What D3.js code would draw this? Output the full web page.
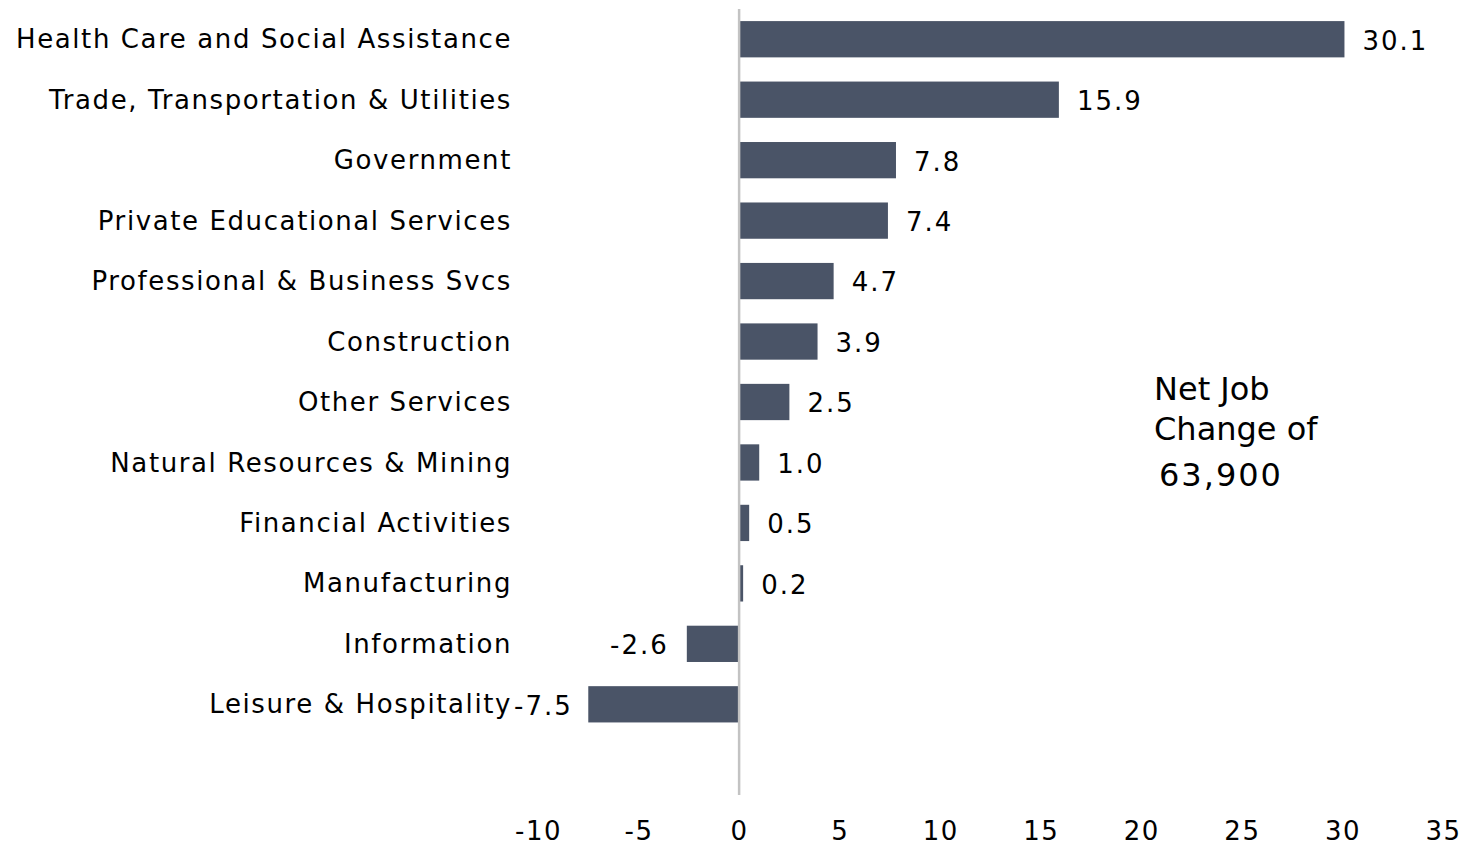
<!DOCTYPE html>
<html>
<head>
<meta charset="utf-8">
<script src="https://cdn.jsdelivr.net/npm/d3@7"></script>
<style>
  body { margin: 0; background: #fff; overflow: hidden; }
  text { font-family: "DejaVu Sans", Verdana, sans-serif; fill: #000; }
</style>
</head>
<body>
<div id="graph"></div>
<script>
const categories = ["Health Care and Social Assistance", "Trade, Transportation & Utilities", "Government",
  "Private Educational Services", "Professional & Business Svcs", "Construction", "Other Services",
  "Natural Resources & Mining", "Financial Activities", "Manufacturing", "Information", "Leisure & Hospitality"];
const values = [30.1, 15.9, 7.8, 7.4, 4.7, 3.9, 2.5, 1.0, 0.5, 0.2, -2.6, -7.5];
const xTicks = [-10, -5, 0, 5, 10, 15, 20, 25, 30, 35];
const noteLines = ["Net Job", "Change of", "63,900"];

document.addEventListener('DOMContentLoaded', () => {
  let width = 1468, height = 845, left = 538, right = 1443, top = 9, bottom = 795;
  let data = categories.map((c, i) => ({cat: c, v: values[i]}));

  let x = d3.scaleLinear().domain([-10, 35]).range([left, right]);
  // one empty slot after the last category, like the original
  let y = d3.scaleBand().domain(categories.concat([""])).range([top, bottom])
    .paddingInner(0.4).paddingOuter(0.2);

  let svg = d3.select("#graph").append("svg").attr("width", width).attr("height", height)
    .style("display", "block");

  svg.selectAll("rect.bar").data(data).enter().append("rect")
    .attr("class", "bar")
    .attr("x", d => x(Math.min(0, d.v)))
    .attr("y", d => y(d.cat))
    .attr("width", d => Math.abs(x(d.v) - x(0)))
    .attr("height", y.bandwidth())
    .attr("fill", "#4a5467");

  // zero line
  svg.append("line")
    .attr("x1", x(0)).attr("x2", x(0)).attr("y1", top).attr("y2", bottom)
    .attr("stroke", "#c3c3c3").attr("stroke-width", 2.5);

  // category labels
  svg.selectAll("text.cat").data(data).enter().append("text")
    .attr("class", "cat")
    .attr("x", 512)
    .attr("y", d => y(d.cat) + y.bandwidth() / 2)
    .attr("dy", "0.35em")
    .attr("text-anchor", "end")
    .attr("font-size", 26)
    .attr("letter-spacing", 1.6)
    .text(d => d.cat);

  // value labels
  let vals = svg.selectAll("text.val").data(data).enter().append("text")
    .attr("class", "val")
    .attr("y", d => y(d.cat) + y.bandwidth() / 2)
    .attr("dy", "0.4em")
    .attr("text-anchor", d => d.v >= 0 ? "start" : "end")
    .attr("font-size", 26)
    .attr("letter-spacing", 2)
    .text(d => d.v.toFixed(1));
  vals.attr("x", function(d) {
    if (d.v >= 0) return x(d.v) + 18;
    let w = this.getComputedTextLength();
    return Math.max(x(d.v) - 18, 514 + w);
  });

  let xAxis = d3.axisBottom(x).tickValues(xTicks).tickSize(0).tickPadding(0).tickFormat(d => String(d));
  let g = svg.append("g").attr("transform", "translate(0," + 822 + ")").call(xAxis);
  g.select(".domain").remove();
  g.selectAll("text").attr("font-size", 26).attr("letter-spacing", 1.5)
    .attr("font-family", "DejaVu Sans, Verdana, sans-serif").attr("fill", "#000");

  let note = svg.append("text").attr("x", 1154).attr("y", 400).attr("font-size", 32)
    .style("font-family", "Tahoma, 'DejaVu Sans', sans-serif");
  note.selectAll("tspan").data(noteLines).enter().append("tspan")
    .attr("x", (d, i) => i === 2 ? 1159 : 1154)
    .attr("dy", (d, i) => i === 0 ? 0 : (i === 1 ? 40 : 46))
    .attr("letter-spacing", (d, i) => i === 2 ? 2 : 0)
    .text(d => d);
});
</script>
</body>
</html>
